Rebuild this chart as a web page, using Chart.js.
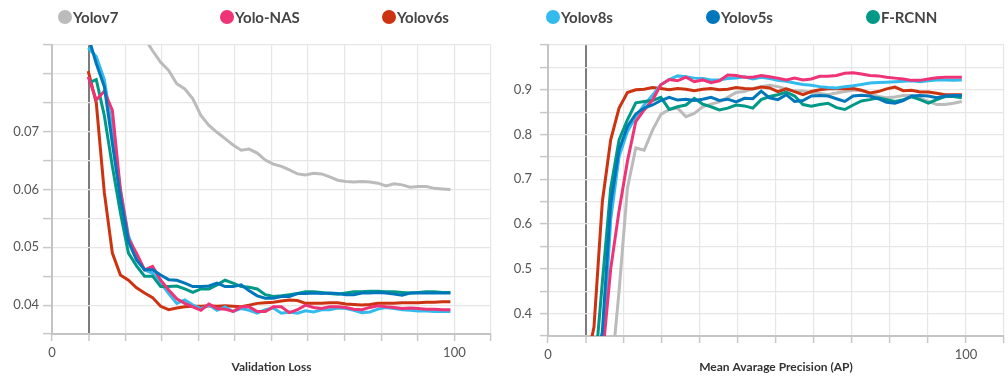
<!DOCTYPE html>
<html>
<head>
<meta charset="utf-8">
<script src="https://cdn.jsdelivr.net/npm/chart.js@4.4.1/dist/chart.umd.min.js"></script>
<style>
  body { margin: 0; background: #fff; font-family: Lato, sans-serif; }
  #page { position: relative; width: 1008px; height: 380px; overflow: hidden; }
  .box { position: absolute; top: 0; height: 380px; }
  .legend-item { position: absolute; top: 8px; height: 18px; display: flex; align-items: center;
                 font-weight: 700; font-size: 15px; color: #444; white-space: nowrap; }
  .dot { width: 14px; height: 14px; border-radius: 50%; margin-right: 1px; }
</style>
</head>
<body>
<div id="page">
  <div class="box" style="left:0;width:500px"><canvas id="lossChart"></canvas></div>
  <div class="box" style="left:500px;width:508px"><canvas id="apChart"></canvas></div>
  <div id="legend"></div>
</div>
<script>
// epochs shared by every run
const epochs = [9, 11, 13, 15, 17, 19, 21, 23, 25, 27, 29, 31, 33, 35, 37, 39, 41, 43, 45, 47,
  49, 51, 53, 55, 57, 59, 61, 63, 65, 67, 69, 71, 73, 75, 77, 79, 81, 83, 85, 87, 89, 91, 93, 95, 97, 99];

const seriesNames = ['Yolov7', 'Yolo-NAS', 'Yolov6s', 'Yolov8s', 'Yolov5s', 'F-RCNN'];
const seriesColors = ['#bbbbbb', '#ee3377', '#cc3311', '#33bbee', '#0077bb', '#009988'];

// validation loss
const lossYolov7 = [0.110, 0.105, 0.100, 0.096, 0.093, 0.090, 0.088, 0.0862, 0.0840, 0.0820,
  0.0806, 0.0783, 0.0774, 0.0757, 0.0728, 0.0711, 0.0699, 0.0688, 0.0677, 0.0668,
  0.0670, 0.0663, 0.0651, 0.0644, 0.0640, 0.0634, 0.0627, 0.0625, 0.0628, 0.0627,
  0.0622, 0.0616, 0.0614, 0.0613, 0.0614, 0.0613, 0.0611, 0.0606, 0.0610, 0.0608,
  0.0604, 0.0605, 0.0605, 0.0602, 0.0601, 0.0600];
const lossYoloNAS = [0.0795, 0.0755, 0.0770, 0.0737, 0.0599, 0.0515, 0.0490, 0.0461, 0.0467, 0.0443,
  0.0426, 0.0411, 0.0403, 0.0397, 0.0391, 0.0402, 0.0394, 0.0393, 0.0389, 0.0397,
  0.0397, 0.0389, 0.0389, 0.0397, 0.0397, 0.0387, 0.0392, 0.0400, 0.0396, 0.0394,
  0.0397, 0.0397, 0.0396, 0.0393, 0.0392, 0.0396, 0.0399, 0.0397, 0.0396, 0.0394,
  0.0395, 0.0394, 0.0393, 0.0393, 0.0392, 0.0392];
const lossYolov6s = [0.0805, 0.0750, 0.0595, 0.0490, 0.0452, 0.0443, 0.0430, 0.0421, 0.0413, 0.0398,
  0.0392, 0.0395, 0.0397, 0.0398, 0.0398, 0.0399, 0.0398, 0.0399, 0.0398, 0.0397,
  0.0400, 0.0403, 0.0404, 0.0405, 0.0407, 0.0409, 0.0408, 0.0403, 0.0403, 0.0403,
  0.0404, 0.0404, 0.0402, 0.0401, 0.0400, 0.0401, 0.0403, 0.0403, 0.0403, 0.0404,
  0.0404, 0.0404, 0.0405, 0.0405, 0.0406, 0.0406];
const lossYolov8s = [0.0845, 0.0830, 0.0790, 0.0703, 0.0600, 0.0520, 0.0485, 0.0461, 0.0455, 0.0438,
  0.0420, 0.0403, 0.0409, 0.0400, 0.0394, 0.0400, 0.0391, 0.0397, 0.0389, 0.0394,
  0.0391, 0.0386, 0.0392, 0.0395, 0.0386, 0.0388, 0.0386, 0.0390, 0.0388, 0.0392,
  0.0392, 0.0395, 0.0394, 0.0391, 0.0387, 0.0388, 0.0393, 0.0396, 0.0394, 0.0392,
  0.0391, 0.0390, 0.0390, 0.0389, 0.0389, 0.0389];
const lossYolov5s = [0.0865, 0.0818, 0.0778, 0.0680, 0.0585, 0.0510, 0.0478, 0.0461, 0.0461, 0.0452,
  0.0444, 0.0443, 0.0438, 0.0432, 0.0432, 0.0433, 0.0438, 0.0432, 0.0432, 0.0435,
  0.0425, 0.0416, 0.0412, 0.0412, 0.0415, 0.0415, 0.0420, 0.0420, 0.0421, 0.0420,
  0.0421, 0.0420, 0.0418, 0.0418, 0.0421, 0.0421, 0.0422, 0.0421, 0.0419, 0.0417,
  0.0421, 0.0421, 0.0421, 0.0421, 0.0421, 0.0421];
const lossFRCNN = [0.0784, 0.0790, 0.0728, 0.0640, 0.0560, 0.0490, 0.0468, 0.0450, 0.0450, 0.0432,
  0.0432, 0.0433, 0.0428, 0.0422, 0.0428, 0.0428, 0.0435, 0.0443, 0.0438, 0.0432,
  0.0431, 0.0428, 0.0418, 0.0415, 0.0416, 0.0418, 0.0420, 0.0423, 0.0423, 0.0422,
  0.0420, 0.0419, 0.0421, 0.0423, 0.0423, 0.0424, 0.0424, 0.0423, 0.0423, 0.0422,
  0.0421, 0.0422, 0.0423, 0.0423, 0.0422, 0.0422];

// mean average precision
const apYolov7 = [0.10, 0.15, 0.20, 0.25, 0.45, 0.68, 0.770, 0.765, 0.810, 0.845,
  0.856, 0.859, 0.840, 0.847, 0.862, 0.868, 0.873, 0.883, 0.894, 0.896,
  0.903, 0.907, 0.910, 0.907, 0.902, 0.897, 0.897, 0.894, 0.892, 0.889,
  0.893, 0.896, 0.899, 0.899, 0.892, 0.885, 0.882, 0.884, 0.887, 0.887,
  0.881, 0.874, 0.867, 0.867, 0.870, 0.874];
const apYoloNAS = [0.20, 0.25, 0.30, 0.50, 0.63, 0.74, 0.829, 0.855, 0.877, 0.911,
  0.923, 0.920, 0.928, 0.918, 0.922, 0.916, 0.920, 0.933, 0.932, 0.928,
  0.928, 0.932, 0.929, 0.926, 0.922, 0.926, 0.922, 0.924, 0.930, 0.930,
  0.932, 0.937, 0.938, 0.935, 0.932, 0.931, 0.928, 0.926, 0.924, 0.921,
  0.921, 0.924, 0.927, 0.928, 0.928, 0.928];
const apYolov6s = [0.28, 0.37, 0.65, 0.788, 0.859, 0.894, 0.900, 0.901, 0.905, 0.903,
  0.900, 0.903, 0.901, 0.898, 0.901, 0.903, 0.900, 0.901, 0.905, 0.903,
  0.902, 0.906, 0.904, 0.896, 0.902, 0.896, 0.889, 0.896, 0.900, 0.902,
  0.902, 0.902, 0.903, 0.899, 0.893, 0.896, 0.902, 0.906, 0.898, 0.899,
  0.895, 0.895, 0.892, 0.889, 0.889, 0.889];
const apYolov8s = [0.20, 0.25, 0.30, 0.61, 0.751, 0.807, 0.840, 0.866, 0.888, 0.911,
  0.923, 0.931, 0.929, 0.926, 0.925, 0.922, 0.922, 0.925, 0.926, 0.929,
  0.924, 0.928, 0.925, 0.921, 0.919, 0.915, 0.912, 0.910, 0.907, 0.905,
  0.904, 0.907, 0.909, 0.912, 0.915, 0.916, 0.917, 0.918, 0.919, 0.920,
  0.918, 0.920, 0.922, 0.922, 0.921, 0.922];
const apYolov5s = [0.20, 0.25, 0.36, 0.645, 0.766, 0.818, 0.846, 0.859, 0.866, 0.876,
  0.883, 0.877, 0.879, 0.876, 0.879, 0.883, 0.876, 0.879, 0.873, 0.881,
  0.880, 0.897, 0.882, 0.878, 0.889, 0.874, 0.876, 0.886, 0.887, 0.886,
  0.880, 0.874, 0.886, 0.888, 0.886, 0.880, 0.872, 0.870, 0.876, 0.886,
  0.887, 0.886, 0.882, 0.886, 0.887, 0.887];
const apFRCNN = [0.20, 0.25, 0.47, 0.68, 0.788, 0.833, 0.871, 0.874, 0.876, 0.883,
  0.856, 0.862, 0.866, 0.881, 0.868, 0.862, 0.855, 0.859, 0.866, 0.864,
  0.859, 0.878, 0.885, 0.889, 0.895, 0.886, 0.867, 0.863, 0.867, 0.870,
  0.860, 0.856, 0.866, 0.875, 0.878, 0.882, 0.878, 0.874, 0.878, 0.884,
  0.878, 0.870, 0.878, 0.885, 0.885, 0.882];

// axis ticks
const xTickLabels = ['0', '', '', '', '', '', '', '', '', '', '', '100', ''];
const lossTicks = [0.035, 0.04, 0.045, 0.05, 0.055, 0.06, 0.065, 0.07, 0.075, 0.08, 0.085];
const lossTickLabels = ['', '0.04', '', '0.05', '', '0.06', '', '0.07', '', '', ''];
const apTicks = [0.35, 0.4, 0.45, 0.5, 0.55, 0.6, 0.65, 0.7, 0.75, 0.8, 0.85, 0.9, 0.95, 1.0];
const apTickLabels = ['', '0.4', '', '0.5', '', '0.6', '', '0.7', '', '0.8', '', '0.9', '', ''];

const drawOrder = [5, 1, 4, 3, 0, 2];

Chart.defaults.font.family = 'Lato, sans-serif';

function makeSets(lists) {
  return seriesNames.map((name, i) => ({
    label: name,
    data: epochs.map((e, j) => ({ x: e, y: lists[i][j] })),
    borderColor: seriesColors[i],
    backgroundColor: seriesColors[i],
    borderWidth: 3,
    pointRadius: 0,
    tension: 0,
    order: drawOrder[i]
  }));
}

function makeOptions(cfg) {
  return {
    responsive: true,
    maintainAspectRatio: false,
    animation: false,
    layout: { padding: { top: 45, right: cfg.padRight, bottom: 0, left: 0 } },
    plugins: { legend: { display: false }, tooltip: { enabled: false } },
    scales: {
      x: {
        type: 'linear',
        min: 0,
        max: 1200 / 11,
        afterBuildTicks: axis => { axis.ticks = xTickLabels.map((t, i) => ({ value: i * 100 / 11 })); },
        afterFit: axis => { axis.height = cfg.xHeight; },
        ticks: { callback: (v, i) => xTickLabels[i], color: '#555', font: { size: 13 },
                 padding: 4, maxRotation: 0, autoSkip: false },
        grid: {
          color: ctx => ctx.index === 1 ? '#7c7c7c' : '#e6e6e6',
          lineWidth: ctx => ctx.index === 1 ? 2 : 1.2,
          tickColor: '#c8c8c8', tickLength: 7, tickWidth: 1.5
        },
        border: { color: '#c4c4c4', width: 2 },
        title: { display: true, text: cfg.title, color: '#333',
                 font: { size: 12, weight: 'bold' }, padding: { top: 0, bottom: 6 } }
      },
      y: {
        min: cfg.yTicks[0],
        max: cfg.yTicks[cfg.yTicks.length - 1],
        afterBuildTicks: axis => { axis.ticks = cfg.yTicks.map(v => ({ value: v })); },
        afterFit: axis => { axis.width = cfg.yWidth; },
        ticks: { callback: (v, i) => cfg.yLabels[i], color: '#555', font: { size: 13 },
                 padding: cfg.yPad, autoSkip: false },
        grid: { color: '#e6e6e6', lineWidth: 1.2, tickColor: '#c8c8c8', tickLength: cfg.yTickLen, tickWidth: 1.5 },
        border: { color: '#c4c4c4', width: 2 }
      }
    }
  };
}

new Chart('lossChart', {
  type: 'line',
  data: { datasets: makeSets([lossYolov7, lossYoloNAS, lossYolov6s, lossYolov8s, lossYolov5s, lossFRCNN]) },
  options: makeOptions({ title: 'Validation Loss', padRight: 9, xHeight: 46, yWidth: 52,
    yPad: 4, yTickLen: 9, yTicks: lossTicks, yLabels: lossTickLabels })
});

new Chart('apChart', {
  type: 'line',
  data: { datasets: makeSets([apYolov7, apYoloNAS, apYolov6s, apYolov8s, apYolov5s, apFRCNN]) },
  options: makeOptions({ title: 'Mean Avarage Precision (AP)', padRight: 2, xHeight: 44, yWidth: 48,
    yPad: 8, yTickLen: 8, yTicks: apTicks, yLabels: apTickLabels })
});

// legend: three names over each panel
const legend = document.getElementById('legend');
seriesNames.forEach((name, i) => {
  const left = i < 3 ? 58 + i * 162 : 546 + (i - 3) * 160;
  const item = document.createElement('div');
  item.className = 'legend-item';
  item.style.left = left + 'px';
  item.innerHTML = '<span class="dot" style="background:' + seriesColors[i] + '"></span>' + name;
  legend.appendChild(item);
});
</script>
</body>
</html>
